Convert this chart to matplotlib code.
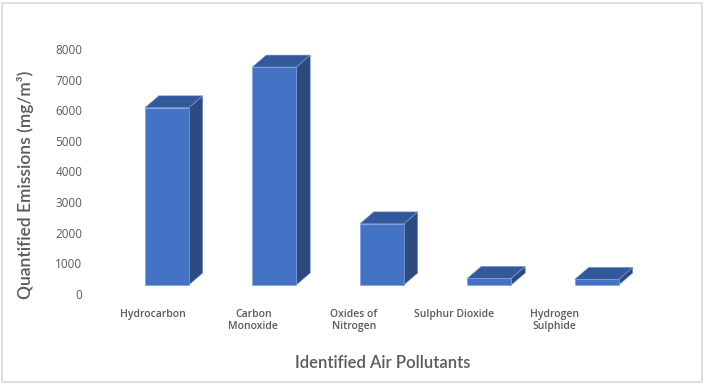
import matplotlib
matplotlib.use("Agg")
import matplotlib.pyplot as plt
from matplotlib.patches import Polygon, Rectangle
import numpy as np

categories = ["Hydrocarbon", "Carbon\nMonoxide", "Oxides of\nNitrogen", "Sulphur Dioxide", "Hydrogen\nSulphide"]
values = [6080, 7410, 2290, 510, 480]
yticks = [0, 1000, 2000, 3000, 4000, 5000, 6000, 7000, 8000]

W, H = 705, 384
fig = plt.figure(figsize=(W / 100, H / 100), dpi=100)
fig.patch.set_facecolor("white")

left_px, right_px = 113, 113 + 537.5
bottom_px, top_px = 294, 49
ax = fig.add_axes([left_px / W, (H - bottom_px) / H, (right_px - left_px) / W, (bottom_px - top_px) / H])
ax.set_xlim(-0.5, 4.5)
ax.set_ylim(0, 8000)
for s in ax.spines.values():
    s.set_visible(False)
ax.set_facecolor("none")

px_x = (right_px - left_px) / 5.0
px_y = (bottom_px - top_px) / 8000.0
depth_dx = 14 / px_x
depth_dy = 12 / px_y
floor = 9 / px_y
bw = 44 / px_x

front_c = "#4472C4"
top_c = "#33589B"
side_c = "#2C4A80"
edge_c = "#7fa0da"

x = np.arange(len(categories))
for xi, v in zip(x, values):
    xl, xr = xi - bw / 2, xi + bw / 2
    ax.add_patch(Polygon([(xr, floor), (xr, v), (xr + depth_dx, v + depth_dy), (xr + depth_dx, floor + depth_dy)],
                         closed=True, facecolor=side_c, edgecolor=edge_c, lw=0.4, zorder=2))
    ax.add_patch(Polygon([(xl, v), (xr, v), (xr + depth_dx, v + depth_dy), (xl + depth_dx, v + depth_dy)],
                         closed=True, facecolor=top_c, edgecolor=edge_c, lw=0.4, zorder=2))
    ax.add_patch(Rectangle((xl, floor), bw, v - floor, facecolor=front_c, edgecolor=edge_c, lw=0.5, zorder=3))

txt_c = "#595959"
ax.set_yticks(yticks)
ax.set_yticklabels([str(t) for t in yticks], fontsize=8.5, color=txt_c, family="Open Sans")
ax.tick_params(axis="y", length=0, pad=22)
label_pos = [i * 0.935 - 0.13 for i in range(len(categories))]
ax.set_xticks(label_pos)
ax.set_xticklabels(categories, fontsize=7.5, color=txt_c, family="Open Sans", fontweight="semibold",
                   va="top", linespacing=1.15)
ax.tick_params(axis="x", length=0, pad=11)

fig.text(26 / W, 1 - 185 / H, "Quantified Emissions (mg/m³)", rotation=90, ha="center", va="center",
         fontsize=12.5, color=txt_c, family="Lato", fontweight="semibold")
fig.text(383 / W, 1 - 363 / H, "Identified Air Pollutants", ha="center", va="center",
         fontsize=12, color=txt_c, family="Lato", fontweight="semibold")

fig.add_artist(Rectangle((2 / W, 2 / H), (W - 5) / W, (H - 5) / H, transform=fig.transFigure,
                         fill=False, edgecolor="#d9d9d9", lw=1.2))

fig.savefig("out.png", dpi=100)
